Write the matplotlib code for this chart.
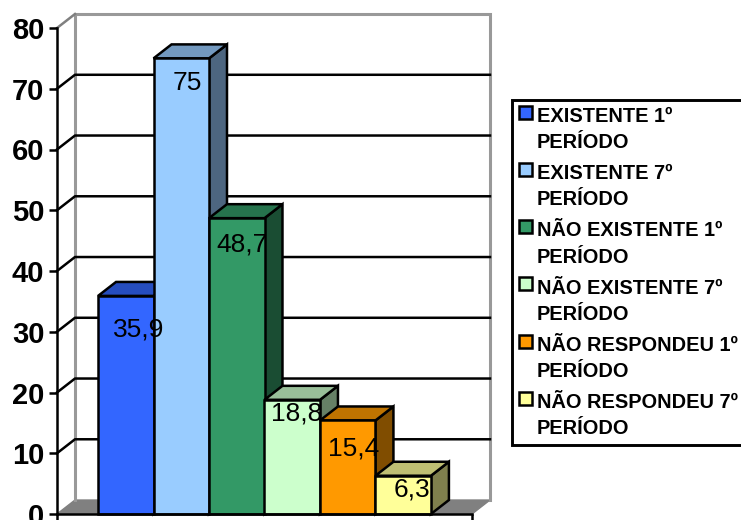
import numpy as np
import matplotlib
matplotlib.use("Agg")
import matplotlib.pyplot as plt
from matplotlib.patches import Polygon, Rectangle
from matplotlib.legend_handler import HandlerPatch

plt.rcParams['font.family'] = ['Liberation Sans', 'DejaVu Sans']

series_names = [
    "EXISTENTE 1º\nPERÍODO",
    "EXISTENTE 7º\nPERÍODO",
    "NÃO EXISTENTE 1º\nPERÍODO",
    "NÃO EXISTENTE 7º\nPERÍODO",
    "NÃO RESPONDEU 1º\nPERÍODO",
    "NÃO RESPONDEU 7º\nPERÍODO",
]
values = [35.9, 75, 48.7, 18.8, 15.4, 6.3]
value_labels = ["35,9", "75", "48,7", "18,8", "15,4", "6,3"]
y_ticks = [0, 10, 20, 30, 40, 50, 60, 70, 80]

colors = ["#3366FF", "#99CCFF", "#339966", "#CCFFCC", "#FF9900", "#FFFF99"]
label_shift = [(9, -24), (4, -18), (4, -19), (3, -10), (4, -20), (6, -10)]  # points from bar top centre

W, H = 741, 520
DEPTH_X = 0.324     # oblique offset of the back wall, in bar widths
DEPTH_Y = 2.3       # same, in value units
LW = 1.8
GREY = "#808080"


def shade(color, k):
    r, g, b = matplotlib.colors.to_rgb(color)
    return (r * k, g * k, b * k)


def swatch(legend, orig_handle, xdescent, ydescent, width, height, fontsize):
    # keep the marker beside the first text line
    return Rectangle((0, height - 0.76 * fontsize), 0.66 * fontsize, 0.66 * fontsize)


fig = plt.figure(figsize=(W / 100, H / 100), dpi=100)
ax = fig.add_axes([57 / W, 1 - 514 / H, 415 / W, 486 / H])
ax.patch.set_visible(False)
ax.set_xlim(-0.74, 6.74)
ax.set_ylim(0, 80)
x0, x1 = ax.get_xlim()

# floor and back wall
ax.add_patch(Polygon([(x0, 0), (x1, 0), (x1 + DEPTH_X, DEPTH_Y), (x0 + DEPTH_X, DEPTH_Y)],
                     closed=True, fc=GREY, ec=GREY, lw=1, clip_on=False, zorder=1))
ax.plot([x0 + DEPTH_X, x0 + DEPTH_X, x1 + DEPTH_X, x1 + DEPTH_X],
        [DEPTH_Y, 80 + DEPTH_Y, 80 + DEPTH_Y, DEPTH_Y],
        color="#999999", lw=2.2, clip_on=False, zorder=1, solid_joinstyle="miter")
ax.plot([x0, x0 + DEPTH_X], [80, 80 + DEPTH_Y], color=GREY, lw=LW, clip_on=False, zorder=1)

# grid lines run along the back wall and step down the side wall
for t in y_ticks[1:-1]:
    ax.plot([x0, x0 + DEPTH_X, x1 + DEPTH_X], [t, t + DEPTH_Y, t + DEPTH_Y],
            color="black", lw=LW, clip_on=False, zorder=2)

# bars, left to right so each one covers the side of the previous
for i, v in enumerate(values):
    c = colors[i]
    z = 3 + i
    ax.add_patch(Polygon([(i + 1, 0), (i + 1 + DEPTH_X, DEPTH_Y), (i + 1 + DEPTH_X, v + DEPTH_Y), (i + 1, v)],
                         closed=True, fc=shade(c, 0.5), ec="black", lw=LW, zorder=z, clip_on=False))
    ax.add_patch(Polygon([(i, v), (i + 1, v), (i + 1 + DEPTH_X, v + DEPTH_Y), (i + DEPTH_X, v + DEPTH_Y)],
                         closed=True, fc=shade(c, 0.75), ec="black", lw=LW, zorder=z, clip_on=False))
    ax.add_patch(Rectangle((i, 0), 1, v, fc=c, ec="black", lw=LW, zorder=z, clip_on=False))

for i, v in enumerate(values):
    ax.annotate(value_labels[i], (i + 0.5, v), xytext=label_shift[i], textcoords="offset points",
                ha="center", va="center", fontsize=19, color="black", zorder=20)

for side in ["top", "right"]:
    ax.spines[side].set_visible(False)
for side in ["left", "bottom"]:
    ax.spines[side].set_linewidth(LW)
    ax.spines[side].set_zorder(15)

ax.set_yticks(y_ticks)
ax.set_xticks([x0, x1])
ax.set_xticklabels([])
ax.tick_params(axis="y", length=6, width=LW, pad=3, labelsize=21)
ax.tick_params(axis="x", length=5, width=LW)
for lab in ax.get_yticklabels():
    lab.set_fontweight("bold")

handles = [Rectangle((0, 0), 1, 1, fc=c, ec="black", lw=LW) for c in colors]
leg = fig.legend(handles, series_names, loc="upper left", bbox_to_anchor=(512 / W, 1 - 100 / H),
                 prop={"size": 14.4, "weight": "bold"}, frameon=True, fancybox=False, framealpha=1,
                 edgecolor="black", borderaxespad=0, borderpad=0.35, labelspacing=0.61,
                 handlelength=0.7, handleheight=2.2, handletextpad=0.18,
                 handler_map={Rectangle: HandlerPatch(patch_func=swatch)})
leg.get_frame().set_linewidth(LW + 0.3)
for t in leg.get_texts():
    t.set_linespacing(1.47)

fig.savefig("out.png", dpi=100)
